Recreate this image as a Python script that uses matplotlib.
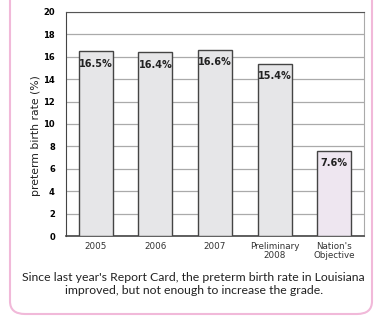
import matplotlib.pyplot as plt
from matplotlib.patches import FancyBboxPatch

# data
categories = ['2005', '2006', '2007', 'Preliminary\n2008', "Nation's\nObjective"]
rates = [16.5, 16.4, 16.6, 15.4, 7.6]
bar_colors = ['#e6e6e8', '#e6e6e8', '#e6e6e8', '#e6e6e8', '#eee6f0']
yticks = [0, 2, 4, 6, 8, 10, 12, 14, 16, 18, 20]

fig = plt.figure(figsize=(3.76, 3.18), dpi=100)

# pink rounded frame
frame = FancyBboxPatch((10 / 376, 4 / 318), 362 / 376, 330 / 318,
                       boxstyle='round,pad=0,rounding_size=0.04',
                       transform=fig.transFigure, facecolor='none',
                       edgecolor='#f1b9d9', linewidth=1.5, zorder=-1)
fig.patches.append(frame)

ax = fig.add_axes([66 / 376, 1 - 236 / 318, 298 / 376, 224 / 318])
x = range(len(categories))
bars = ax.bar(x, rates, width=0.57, color=bar_colors, edgecolor='#444444',
              linewidth=1.0, zorder=3)
for b, v in zip(bars, rates):
    ax.text(b.get_x() + b.get_width() / 2, v - 1.1, f'{v}%', ha='center',
            va='center', fontsize=7, fontweight='bold', color='#222222', zorder=4)

ax.set_xlim(-0.5, len(categories) - 0.5)
ax.set_ylim(0, 20)
ax.set_yticks(yticks)
ax.set_yticklabels(yticks, fontsize=6, fontweight='bold')
ax.set_xticks(list(x))
ax.set_xticklabels(categories, fontsize=6.3, color='#333333', linespacing=1.0)
ax.tick_params(axis='x', length=0, pad=4)
ax.tick_params(axis='y', length=0, pad=8)
ax.yaxis.grid(True, color='#aaaaaa', linewidth=0.9, zorder=0)
ax.spines['top'].set_color('#555555')
ax.spines['right'].set_color('#aaaaaa')
ax.spines['left'].set_color('#444444')
ax.spines['bottom'].set_color('#444444')
ax.spines['bottom'].set_linewidth(1.2)
ax.set_ylabel('preterm birth rate (%)', fontsize=7.8, color='#222222')
ax.yaxis.set_label_coords(-0.085, 0.45)

fig.text(0.515, 1 - 284 / 318,
         "Since last year's Report Card, the preterm birth rate in Louisiana\n"
         "improved, but not enough to increase the grade.",
         ha='center', va='center', fontsize=8.8, family='Lato',
         color='#222222', linespacing=1.3)

fig.savefig('out.png', dpi=100)
